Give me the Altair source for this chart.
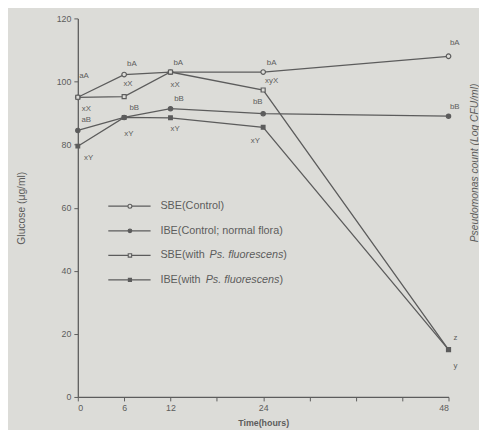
import altair as alt
import pandas as pd

hours = [0, 6, 12, 24, 48]
series_names = [
    "SBE(Control)",
    "IBE(Control; normal flora)",
    "SBE(with Ps. fluorescens)",
    "IBE(with Ps. fluorescens)",
]
sbe_control = [95, 102.2, 103, 103, 108]
ibe_control = [84.5, 88.6, 91.4, 89.8, 89]
sbe_ps = [95, 95.2, 103, 97.3, 15]
ibe_ps = [79.5, 88.6, 88.5, 85.5, 15]

label_text = ["aA", "xX", "aB", "xY",
              "bA", "xX", "bB", "xY",
              "bA", "xX", "bB", "xY",
              "bA", "xyX", "bB", "xY",
              "bA", "bB", "z", "y"]
label_hour = [0.8, 1.1, 1.1, 1.4,
              7.0, 6.5, 7.3, 6.6,
              13.0, 12.6, 13.1, 12.6,
              25.1, 25.1, 23.3, 23.0,
              48.8, 48.8, 48.9, 48.9]
label_value = [101.6, 91.3, 87.9, 75.7,
               105.4, 99.1, 91.6, 83.2,
               106.0, 98.8, 94.6, 84.8,
               106.0, 100.1, 93.5, 81.0,
               112.2, 92.0, 18.7, 9.7]

legend_plain = ["SBE(Control)", "IBE(Control; normal flora)", "SBE(with", "IBE(with"]
legend_italic = ["", "", "Ps. fluorescens", "Ps. fluorescens"]
legend_close = ["", "", ")", ")"]

BG = "#dcdcd8"
INK = "#5c5c5c"
FONT = "Liberation Sans"

rows = []
for name, vals in zip(series_names, [sbe_control, ibe_control, sbe_ps, ibe_ps]):
    for h, v in zip(hours, vals):
        rows.append({"series": name, "hour": h, "value": v})
df = pd.DataFrame(rows)

shape_scale = alt.Scale(domain=series_names, range=["circle", "circle", "square", "square"])
fill_scale = alt.Scale(domain=series_names, range=[BG, INK, BG, INK])
size_scale = alt.Scale(domain=series_names, range=[22, 14, 40, 26])

xscale = alt.Scale(domain=[0, 48], nice=False)
yscale = alt.Scale(domain=[0, 120], nice=False)

x_axis = alt.Axis(
    values=[0, 6, 12, 18, 24, 30, 36, 42, 48],
    labelExpr="indexof([0,6,12,24,48], datum.value) >= 0 ? datum.label : ''",
    title="Time(hours)", grid=False, tickSize=4, labelFontSize=9,
    titleFontSize=9, titleFontWeight="bold", titlePadding=6, labelPadding=3,
)
y_axis = alt.Axis(
    values=list(range(0, 121, 10)),
    labelExpr="datum.value % 20 == 0 ? datum.label : ''",
    title="Glucose  (\u03bcg/ml)", grid=False, tickSize=4, labelFontSize=9,
    titleFontSize=10.5, titleFontWeight="normal", titlePadding=30, labelPadding=3,
)

base = alt.Chart(df).encode(
    x=alt.X("hour:Q", scale=xscale, axis=x_axis),
    y=alt.Y("value:Q", scale=yscale, axis=y_axis),
)

lines = base.mark_line(color=INK, strokeWidth=1.3).encode(detail="series:N")
points = base.mark_point(strokeWidth=1.2, opacity=1, color=INK).encode(
    shape=alt.Shape("series:N", scale=shape_scale, legend=None),
    fill=alt.Fill("series:N", scale=fill_scale, legend=None),
    size=alt.Size("series:N", scale=size_scale, legend=None),
)

lab_df = pd.DataFrame({"t": label_text, "hour": label_hour, "value": label_value})
labels = alt.Chart(lab_df).mark_text(
    fontSize=8, color=INK, font=FONT, align="center", baseline="middle"
).encode(x=alt.X("hour:Q", scale=xscale), y=alt.Y("value:Q", scale=yscale), text="t:N")

leg_df = pd.DataFrame({
    "series": series_names,
    "plain": legend_plain,
    "italic": legend_italic,
    "close": legend_close,
    "row": list(range(len(series_names))),
})
leg_base = alt.Chart(leg_df).transform_calculate(
    ly="191 + 25 * datum.row", x1="31", x2="74", xm="53",
    xt="84",
    xi="datum.row == 2 ? 134 : (datum.row == 3 ? 130 : 0)",
    xc="datum.row == 2 ? 209 : (datum.row == 3 ? 205 : 0)",
)
leg_lines = leg_base.mark_rule(color=INK, strokeWidth=1.3).encode(
    x=alt.X("x1:Q", scale=None), x2="x2:Q", y=alt.Y("ly:Q", scale=None))
leg_pts = leg_base.mark_point(strokeWidth=1.1, opacity=1, color=INK).encode(
    x=alt.X("xm:Q", scale=None), y=alt.Y("ly:Q", scale=None),
    shape=alt.Shape("series:N", scale=shape_scale, legend=None),
    fill=alt.Fill("series:N", scale=fill_scale, legend=None),
    size=alt.Size("series:N", scale=alt.Scale(domain=series_names, range=[16, 10, 16, 14]), legend=None),
)
leg_txt = leg_base.mark_text(fontSize=11, color=INK, font=FONT, align="left", baseline="middle").encode(
    x=alt.X("xt:Q", scale=None), y=alt.Y("ly:Q", scale=None), text="plain:N")
leg_it = leg_base.transform_filter("datum.row >= 2").mark_text(
    fontSize=11, color=INK, font=FONT, fontStyle="italic", align="left", baseline="middle").encode(
    x=alt.X("xi:Q", scale=None), y=alt.Y("ly:Q", scale=None), text="italic:N")
leg_cl = leg_base.transform_filter("datum.row >= 2").mark_text(
    fontSize=11, color=INK, font=FONT, align="left", baseline="middle").encode(
    x=alt.X("xc:Q", scale=None), y=alt.Y("ly:Q", scale=None), text="close:N")

right_title = alt.Chart(pd.DataFrame({"t": ["Pseudomonas count (Log CFU/ml)"]})).mark_text(
    fontSize=10.5, color=INK, font=FONT, fontStyle="italic", angle=270,
    align="center", baseline="middle",
).encode(x=alt.value(404), y=alt.value(147), text="t:N")

chart = alt.layer(lines, points, labels, leg_lines, leg_pts, leg_txt, leg_it, leg_cl, right_title).resolve_scale(
    shape="independent", fill="independent", size="independent"
).properties(
    width=377, height=385,
    autosize=alt.AutoSizeParams(type="none"),
    padding={"left": 71, "top": 7, "right": 31, "bottom": 30},
    background=BG,
).configure_view(stroke="transparent").configure_axis(
    domainColor=INK, tickColor=INK, labelColor=INK, titleColor=INK,
    labelFont=FONT, titleFont=FONT, domainWidth=1.3,
)

chart.save("out.html", embed_options={"renderer": "svg", "actions": False})
